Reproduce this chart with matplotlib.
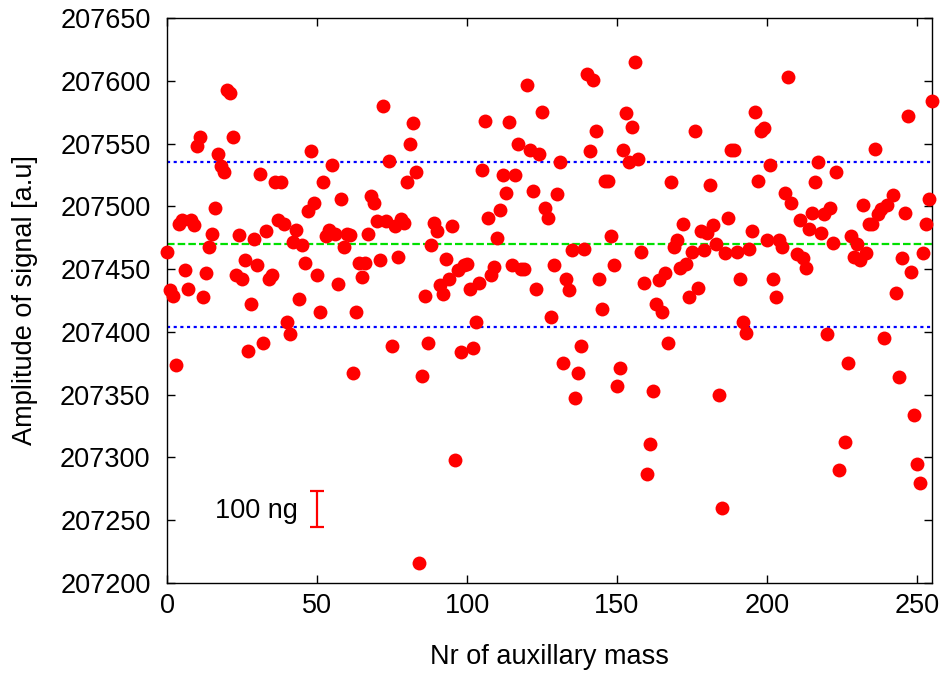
import matplotlib
matplotlib.use("Agg")
import matplotlib.pyplot as plt
from matplotlib.ticker import FormatStrFormatter

plt.rcParams['font.family'] = ['Liberation Sans', 'DejaVu Sans']

# --- data ---
mass_nr = [0,1,2,3,4,5,6,7,8,9,10,11,12,13,14,15,16,17,18,19,20,21,22,23,24,25,26,27,28,29,
           30,31,32,33,34,35,36,37,38,39,40,41,42,43,44,45,46,47,48,49,50,51,52,53,54,55,56,57,58,59,
           60,61,62,63,64,65,66,67,68,69,70,71,72,73,74,75,76,77,78,79,80,81,82,83,84,85,86,87,88,89,
           90,91,92,93,94,95,96,97,98,99,100,101,102,103,104,105,106,107,108,109,110,111,112,113,114,115,116,117,118,119,
           120,121,122,123,124,125,126,127,128,129,130,131,132,133,134,135,136,137,138,139,140,141,142,143,144,145,146,147,148,149,
           150,151,152,153,154,155,156,157,158,159,160,161,162,163,164,165,166,167,168,169,170,171,172,173,174,175,176,177,178,179,
           180,181,182,183,184,185,186,187,188,189,190,191,192,193,194,195,196,197,198,199,200,201,202,203,204,205,206,207,208,210,
           211,212,213,214,215,216,217,218,219,220,221,222,223,224,226,227,228,229,230,231,232,233,234,235,236,237,238,239,240,242,
           243,244,245,246,247,248,249,250,251,252,253,254,255]
amplitude = [207464,207433,207429,207374,207486,207489,207449,207434,207489,207485,207548,207555,207428,207447,207468,207478,207499,207542,207532,207527,207593,207590,207555,207445,207477,207442,207457,207385,207422,207474,
             207453,207526,207391,207480,207442,207445,207519,207489,207519,207486,207408,207398,207472,207481,207426,207469,207455,207496,207544,207503,207445,207416,207519,207476,207481,207533,207478,207438,207506,207468,
             207478,207477,207367,207416,207455,207444,207455,207478,207508,207503,207488,207457,207580,207488,207536,207389,207484,207460,207490,207487,207519,207550,207566,207527,207216,207365,207429,207391,207469,207487,
             207480,207437,207430,207458,207442,207484,207298,207449,207384,207453,207454,207434,207387,207408,207439,207529,207568,207491,207445,207452,207475,207497,207525,207511,207567,207453,207525,207550,207450,207450,
             207597,207545,207512,207434,207542,207575,207499,207491,207412,207453,207510,207535,207375,207442,207433,207465,207347,207367,207389,207466,207605,207544,207601,207560,207442,207418,207520,207520,207476,207453,
             207357,207371,207545,207574,207535,207563,207615,207538,207464,207439,207287,207311,207353,207422,207441,207416,207447,207391,207519,207468,207473,207451,207486,207454,207428,207464,207560,207435,207480,207465,
             207479,207517,207485,207470,207350,207260,207463,207491,207545,207545,207464,207442,207408,207399,207466,207480,207575,207520,207560,207562,207473,207533,207442,207428,207473,207468,207511,207603,207503,207462,
             207489,207459,207451,207482,207495,207519,207535,207479,207494,207398,207499,207471,207527,207290,207312,207375,207476,207460,207470,207457,207501,207463,207486,207486,207546,207494,207498,207395,207501,207509,
             207431,207364,207459,207495,207572,207448,207334,207295,207280,207463,207486,207506,207584]

mean_level = 207469.8
upper_level = 207535.3
lower_level = 207404.3

scale_label = "100 ng"
scale_x = 50
scale_low = 207245
scale_high = 207273

x_ticks = [0, 50, 100, 150, 200, 250]
y_ticks = [207200, 207250, 207300, 207350, 207400, 207450, 207500, 207550, 207600, 207650]

FS = 19.5

fig = plt.figure(figsize=(9.45, 6.78), dpi=100)
ax = fig.add_axes([0.177, 0.140, 0.809, 0.8335])

ax.axhline(mean_level, color='#00e000', lw=1.6, dashes=(3.4, 1.4), zorder=2)
ax.axhline(upper_level, color='#0000ff', lw=1.6, dashes=(1.4, 1.6), zorder=2)
ax.axhline(lower_level, color='#0000ff', lw=1.6, dashes=(1.4, 1.6), zorder=2)

ax.plot(mass_nr, amplitude, 'o', color='#ff0000', ms=10, mec='#ff0000', mew=0,
        clip_on=False, zorder=3)

ax.errorbar([scale_x], [(scale_low + scale_high) / 2], yerr=[(scale_high - scale_low) / 2],
            fmt='none', ecolor='#ff0000', elinewidth=1.6, capsize=5, capthick=1.6)
ax.text(scale_x - 6.3, (scale_low + scale_high) / 2 - 2, scale_label, ha='right', va='center',
        fontsize=FS, color='black')

ax.set_xlim(0, 255)
ax.set_ylim(207200, 207650)
ax.set_xticks(x_ticks)
ax.set_yticks(y_ticks)
ax.yaxis.set_major_formatter(FormatStrFormatter('%d'))
ax.tick_params(direction='in', length=6, width=1, top=True, right=True,
               labelsize=FS)
ax.tick_params(axis='y', pad=12)
ax.tick_params(axis='x', pad=7)
for s in ax.spines.values():
    s.set_linewidth(1)
ax.set_xlabel("Nr of auxillary mass", fontsize=FS, labelpad=18)
ax.set_ylabel("Amplitude of signal [a.u]", fontsize=FS, labelpad=16)

fig.savefig("out.png", dpi=100)
